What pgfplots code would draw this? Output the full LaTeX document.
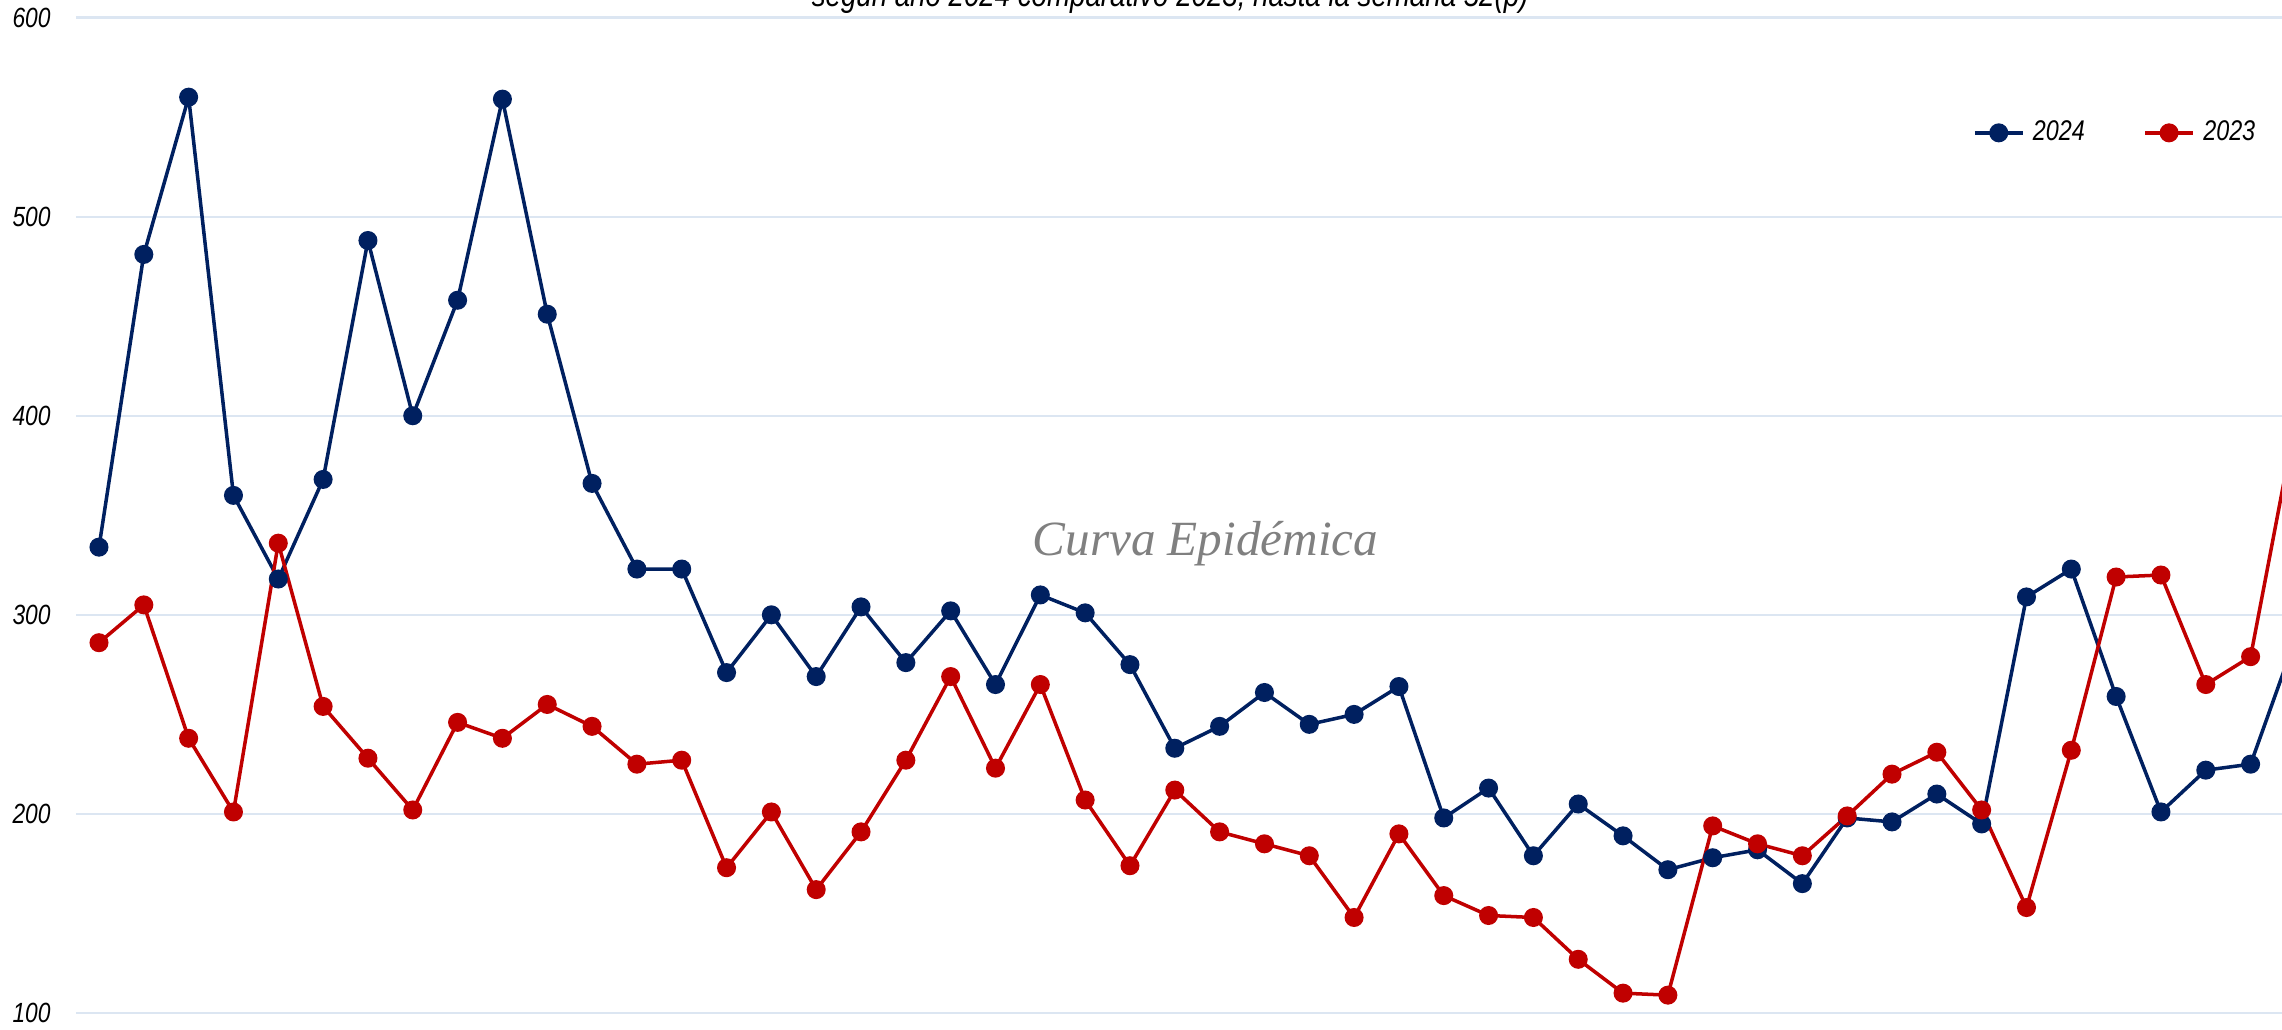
\documentclass[border=0pt]{standalone}
\usepackage{fontspec}
\setmainfont{Liberation Sans}[FakeStretch=0.82]
\newfontfamily\wmfont{Liberation Serif}
\usepackage{pgfplots}
\usepackage{pgfplotstable}
\pgfplotsset{compat=1.18}
\definecolor{c24}{HTML}{002060}
\definecolor{c23}{HTML}{C00000}
\definecolor{gridc}{HTML}{DCE6F2}
\definecolor{wm}{HTML}{808080}

\pgfplotstableread{
w a b
1 334 286
2 481 305
3 560 238
4 360 201
5 318 336
6 368 254
7 488 228
8 400 202
9 458 246
10 559 238
11 451 255
12 366 244
13 323 225
14 323 227
15 271 173
16 300 201
17 269 162
18 304 191
19 276 227
20 302 269
21 265 223
22 310 265
23 301 207
24 275 174
25 233 212
26 244 191
27 261 185
28 245 179
29 250 148
30 264 190
31 198 159
32 213 149
33 179 148
34 205 127
35 189 110
36 172 109
37 178 194
38 182 185
39 165 179
40 198 199
41 196 220
42 210 231
43 195 202
44 309 153
45 323 232
46 259 319
47 201 320
48 222 265
49 225 279
50 288 397
}\datatable

\begin{document}
\begin{tikzpicture}
\useasboundingbox (-0.76cm,0cm) rectangle (22.06cm,10.30cm);
\begin{scope}
\clip (-0.76cm,0cm) rectangle (22.06cm,10.30cm);
\begin{axis}[
  at={(0cm,0cm)}, anchor=south west,
  scale only axis,
  width=22.06cm, height=10.30cm,
  xmin=0.487, xmax=49.70,
  ymin=91.5, ymax=608.8,
  axis line style={draw=none},
  major tick style={draw=none},
  xtick=\empty,
  ytick={100,200,300,400,500,600},
  ymajorgrids,
  grid style={gridc, line width=0.6pt},
  /pgf/number format/assume math mode=true,
  tick label style={font=\fontsize{7.9}{9}\selectfont\itshape},
  yticklabel style={anchor=east, xshift=-0.13cm},
  legend style={draw=none, fill=none, inner sep=0pt,
    font=\fontsize{8.1}{9}\selectfont\itshape,
    legend columns=2,
    at={(axis description cs:0.992,0.871)}, anchor=east,
    /tikz/every even column/.append style={column sep=0.5cm},
    nodes={inner xsep=2.4pt}},
  legend image code/.code={\draw[mark repeat=2,mark phase=2] plot coordinates {(0cm,0cm) (0.24cm,0cm) (0.48cm,0cm)};},
]
\addplot[c24, line width=1pt, mark=*, mark size=2.2pt, mark options={fill=c24, draw=c24}] table[x=w, y=a] {\datatable};
\addlegendentry{2024}
\addplot[c23, line width=1pt, mark=*, mark size=2.2pt, mark options={fill=c23, draw=c23}] table[x=w, y=b] {\datatable};
\addlegendentry{2023}
\node[anchor=base, yshift=-0.065cm, font=\fontsize{9.6}{11}\selectfont\itshape] at (axis description cs:0.496,1) {según año 2024 comparativo 2023, hasta la semana 52(p)};
\node[font=\fontsize{14}{16}\selectfont\wmfont\itshape, text=wm] at (axis description cs:0.512,0.472) {Curva Epidémica};
\end{axis}
\end{scope}
\end{tikzpicture}
\end{document}
